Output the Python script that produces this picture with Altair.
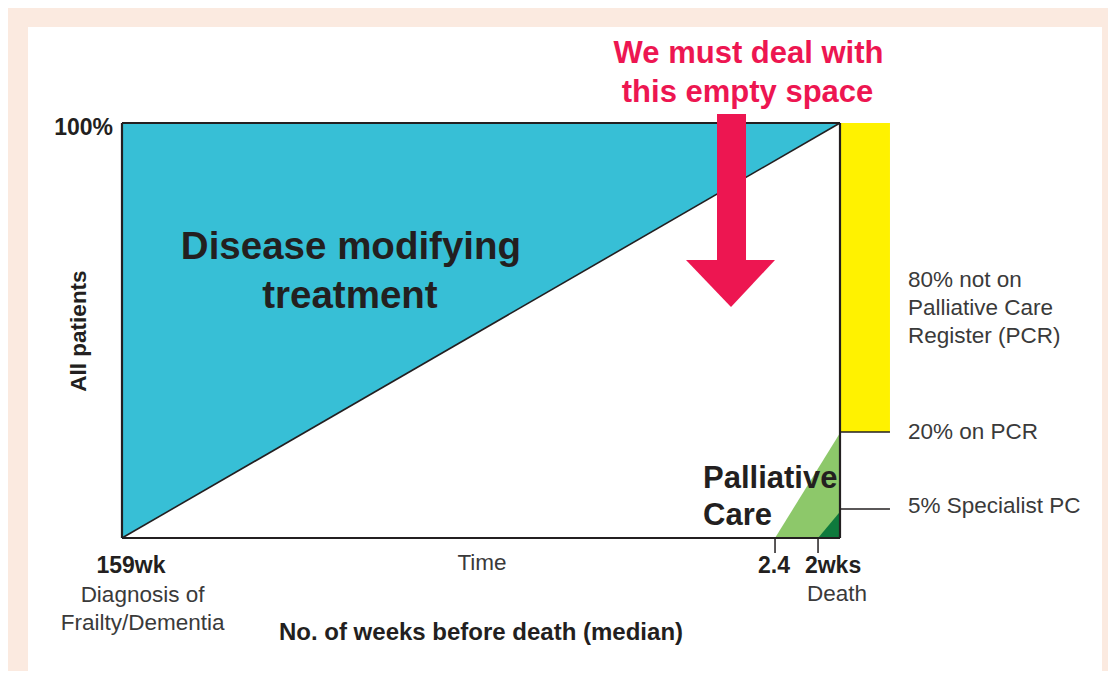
import altair as alt
import pandas as pd

# Schematic coordinate system: x = time from diagnosis (0) to death (100),
# y = share of all patients (0..100 %)
X_DOMAIN = [-15.877, 137.326]
Y_DOMAIN = [-32.048, 127.711]

# white panel behind the diagram
panel_x = [-13.09, 136.49]
panel_y = [-40.0, 123.13]

# Disease modifying treatment wedge (above the diagonal)
dmt_x = [0, 100]
dmt_top = [100, 100]
dmt_bottom = [0, 100]

# Register bar (80% not on PCR)
reg_x = [100.14, 106.96]
reg_y = [25.54, 100]

# Palliative care wedges
pc_x = [90.95, 100]
pc_y = [0, 25.3]
spc_x = [96.94, 100]
spc_y = [0, 6.34]

# week ticks (2.4 wks, 2 wks) and right-hand leader lines (20%, 5%)
tick_x = [90.95, 96.94]
tick_len = -3.61
leader_y = [25.54, 6.99]

# red arrow
arrow_shaft_x = [82.87, 86.91]
arrow_shaft_y = [66.0, 102.17]
arrow_head_x = [78.55, 84.82, 90.95]
arrow_head_top = [66.99, 66.99, 66.99]
arrow_head_tip = [66.99, 55.66, 66.99]

# text labels
bold_small = ["100%", "159wk", "2.4", "2wks"]
bold_small_x = [-1.25, 1.25, 90.81, 99.03]
bold_small_y = [97.11, -8.55, -8.55, -8.55]
bold_small_align = ["right", "center", "center", "center"]

reg_labels = ["Death", "Diagnosis of", "Frailty/Dementia", "Time"]
reg_labels_x = [99.58, 2.86, 2.86, 50.14]
reg_labels_y = [-15.3, -15.35, -22.17, -7.71]

right_labels = ["80% not on", "Palliative Care", "Register (PCR)", "20% on PCR", "5% Specialist PC"]
right_labels_x = [109.47] * 5
right_labels_y = [60.48, 53.73, 46.92, 23.86, 6.02]

dmt_labels = ["Disease modifying", "treatment"]
dmt_labels_x = [31.89, 31.75]
dmt_labels_y = [67.16, 55.35]

pc_labels = ["Palliative", "Care"]
pc_labels_x = [80.92, 80.92]
pc_labels_y = [12.05, 3.13]

red_labels = ["We must deal with", "this empty space"]
red_labels_x = [87.26, 87.12]
red_labels_y = [114.46, 105.13]

axis_title = "No. of weeks before death (median)"
axis_title_xy = (50.0, -24.58)
yaxis_title = "All patients"
yaxis_title_xy = (-5.92, 49.88)

TEAL = "#37bfd6"
YELLOW = "#fff200"
LGREEN = "#8dc86a"
DGREEN = "#0f7a3d"
RED = "#ed1651"
INK = "#231f20"
GREY = "#3a3a3a"
PEACH = "#fbeae0"
FONT = "Liberation Sans"

xs = alt.Scale(domain=X_DOMAIN, nice=False, zero=False)
ys = alt.Scale(domain=Y_DOMAIN, nice=False, zero=False)


def X(f="x"):
    return alt.X(f"{f}:Q", scale=xs, axis=None)


def Y(f="y"):
    return alt.Y(f"{f}:Q", scale=ys, axis=None)


layers = []

# white panel
layers.append(
    alt.Chart(pd.DataFrame({"x": [panel_x[0]], "x2": [panel_x[1]], "y": [panel_y[0]], "y2": [panel_y[1]]}))
    .mark_rect(color="white")
    .encode(x=X(), x2=alt.X2("x2"), y=Y(), y2=alt.Y2("y2"))
)

# teal wedge
layers.append(
    alt.Chart(pd.DataFrame({"x": dmt_x, "y": dmt_top, "y2": dmt_bottom}))
    .mark_area(color=TEAL, opacity=1)
    .encode(x=X(), y=Y(), y2=alt.Y2("y2"))
)

# yellow bar
layers.append(
    alt.Chart(pd.DataFrame({"x": [reg_x[0]], "x2": [reg_x[1]], "y": [reg_y[0]], "y2": [reg_y[1]]}))
    .mark_rect(color=YELLOW)
    .encode(x=X(), x2=alt.X2("x2"), y=Y(), y2=alt.Y2("y2"))
)

# palliative care wedges
layers.append(
    alt.Chart(pd.DataFrame({"x": pc_x, "y": pc_y, "y2": [0, 0]}))
    .mark_area(color=LGREEN, opacity=1)
    .encode(x=X(), y=Y(), y2=alt.Y2("y2"))
)
layers.append(
    alt.Chart(pd.DataFrame({"x": spc_x, "y": spc_y, "y2": [0, 0]}))
    .mark_area(color=DGREEN, opacity=1)
    .encode(x=X(), y=Y(), y2=alt.Y2("y2"))
)

# frame
frame = pd.DataFrame({
    "x": [0, 0, 100, 0],
    "x2": [0, 100, 100, 100],
    "y": [0, 100, 0, 0],
    "y2": [100, 100, 100, 0],
})
layers.append(
    alt.Chart(frame).mark_rule(color=INK, strokeWidth=2.2)
    .encode(x=X(), x2=alt.X2("x2"), y=Y(), y2=alt.Y2("y2"))
)

# diagonal
layers.append(
    alt.Chart(pd.DataFrame({"x": [0, 100], "y": [0, 100]}))
    .mark_line(color=INK, strokeWidth=1.6)
    .encode(x=X(), y=Y())
)

# leader lines
layers.append(
    alt.Chart(pd.DataFrame({"x": [100, 100], "x2": [reg_x[1]] * 2, "y": leader_y}))
    .mark_rule(color=INK, strokeWidth=1.5)
    .encode(x=X(), x2=alt.X2("x2"), y=Y())
)

# ticks
layers.append(
    alt.Chart(pd.DataFrame({"x": tick_x, "y": [0, 0], "y2": [tick_len] * 2}))
    .mark_rule(color=INK, strokeWidth=1.5)
    .encode(x=X(), y=Y(), y2=alt.Y2("y2"))
)

# arrow
layers.append(
    alt.Chart(pd.DataFrame({"x": [arrow_shaft_x[0]], "x2": [arrow_shaft_x[1]],
                            "y": [arrow_shaft_y[0]], "y2": [arrow_shaft_y[1]]}))
    .mark_rect(color=RED)
    .encode(x=X(), x2=alt.X2("x2"), y=Y(), y2=alt.Y2("y2"))
)
layers.append(
    alt.Chart(pd.DataFrame({"x": arrow_head_x, "y": arrow_head_top, "y2": arrow_head_tip}))
    .mark_area(color=RED, opacity=1)
    .encode(x=X(), y=Y(), y2=alt.Y2("y2"))
)


def text_layer(labels, xv, yv, size, weight, color, align="center", baseline="alphabetic", angle=None):
    df = pd.DataFrame({"x": xv, "y": yv, "t": labels})
    kw = dict(font=FONT, fontSize=size, fontWeight=weight, color=color, align=align, baseline=baseline)
    if angle is not None:
        kw["angle"] = angle
    return alt.Chart(df).mark_text(**kw).encode(x=X(), y=Y(), text="t:N")


for lab, xv, yv, al in zip(bold_small, bold_small_x, bold_small_y, bold_small_align):
    layers.append(text_layer([lab], [xv], [yv], 23, "bold", INK, align=al))

layers.append(text_layer(reg_labels, reg_labels_x, reg_labels_y, 22.5, "normal", GREY))
layers.append(text_layer(right_labels, right_labels_x, right_labels_y, 22.5, "normal", GREY, align="left"))
layers.append(text_layer(dmt_labels, dmt_labels_x, dmt_labels_y, 38.5, "bold", INK))
layers.append(text_layer(pc_labels, pc_labels_x, pc_labels_y, 31, "bold", INK, align="left"))
layers.append(text_layer(red_labels, red_labels_x, red_labels_y, 31, "bold", RED))
layers.append(text_layer([axis_title], [axis_title_xy[0]], [axis_title_xy[1]], 24, "bold", INK))
layers.append(text_layer([yaxis_title], [yaxis_title_xy[0]], [yaxis_title_xy[1]], 22.5, "bold", INK,
                         baseline="middle", angle=270))

chart = (
    alt.layer(*layers)
    .properties(
        width=1100,
        height=663,
        padding=0,
        autosize=alt.AutoSizeParams(type="none"),
        background=PEACH,
    )
    .configure_view(stroke=None)
)

chart.save("out.html", embed_options={"renderer": "svg", "actions": False})
